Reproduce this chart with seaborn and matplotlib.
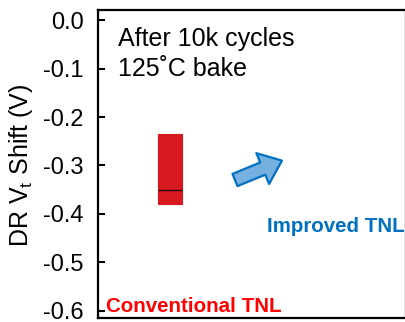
import numpy as np
import pandas as pd
import matplotlib
matplotlib.use("Agg")
import matplotlib.pyplot as plt
from matplotlib.patches import FancyArrowPatch
import seaborn as sns

# DR Vt shift distribution of the conventional TNL cell (V)
conventional_shift = [-0.38, -0.38, -0.35, -0.235, -0.235]
categories = ["Conventional TNL"] * len(conventional_shift)
yticks = [0.0, -0.1, -0.2, -0.3, -0.4, -0.5, -0.6]
ytick_labels = ["0.0", "-0.1", "-0.2", "-0.3", "-0.4", "-0.5", "-0.6"]

sns.set_style("white")
plt.rcParams["font.family"] = ["Liberation Sans", "DejaVu Sans"]
plt.rcParams["mathtext.fontset"] = "custom"
plt.rcParams["mathtext.rm"] = "Liberation Sans"
plt.rcParams["mathtext.it"] = "Liberation Sans:italic"
plt.rcParams["mathtext.default"] = "regular"
plt.rcParams["text.color"] = "black"
plt.rcParams["axes.labelcolor"] = "black"
plt.rcParams["ytick.color"] = "black"
plt.rcParams["xtick.color"] = "black"

df = pd.DataFrame({"group": categories, "shift": conventional_shift})

fig = plt.figure(figsize=(4.05, 3.22), dpi=100)
ax = fig.add_axes([97.5 / 405, 4 / 322, 308.5 / 405, 308 / 322])

box_red = "#D7191F"
sns.boxplot(
    data=df, x="group", y="shift", ax=ax, width=0.324,
    whis=1.5, showcaps=False, showfliers=False,
    boxprops=dict(facecolor=box_red, edgecolor=box_red, linewidth=0.8),
    whiskerprops=dict(linewidth=0),
    medianprops=dict(color="#2a0808", linewidth=1.0),
)

ax.set_xlim(-0.94, 3.06)
ax.set_ylim(-0.615, 0.021)
ax.set_xticks([])
ax.set_xlabel("")
ax.set_yticks(yticks)
ax.set_yticklabels(ytick_labels)
ax.tick_params(axis="y", direction="in", length=5, width=1.5, pad=10,
               labelsize=17, left=True, colors="black")
for sp in ax.spines.values():
    sp.set_linewidth(1.6)
    sp.set_color("black")

ax.set_ylabel("DR V$_t$ Shift (V)", fontsize=18, color="black")
ax.yaxis.set_label_coords(-0.203, 0.497)

ax.text(0.067, 0.884, "After 10k cycles", transform=ax.transAxes,
        fontsize=18, va="baseline", ha="left", color="black")
ax.text(0.067, 0.786, "125\u02daC bake", transform=ax.transAxes,
        fontsize=18, va="baseline", ha="left", color="black")
ax.text(0.028, 0.0205, "Conventional TNL", transform=ax.transAxes,
        fontsize=14.8, fontweight="bold", color="#FF0000",
        va="baseline", ha="left")
ax.text(0.548, 0.280, "Improved TNL", transform=ax.transAxes,
        fontsize=14.8, fontweight="bold", color="#0070C0",
        va="baseline", ha="left")

arrow = FancyArrowPatch(
    (0.4457, 0.448), (0.598, 0.511), transform=ax.transAxes,
    arrowstyle="simple,head_length=15,head_width=24,tail_width=9.5",
    mutation_scale=1, shrinkA=0, shrinkB=0,
    facecolor="#74B0E0", edgecolor="#0070C0", linewidth=1.6,
)
ax.add_patch(arrow)

fig.savefig("out.png", dpi=100)
